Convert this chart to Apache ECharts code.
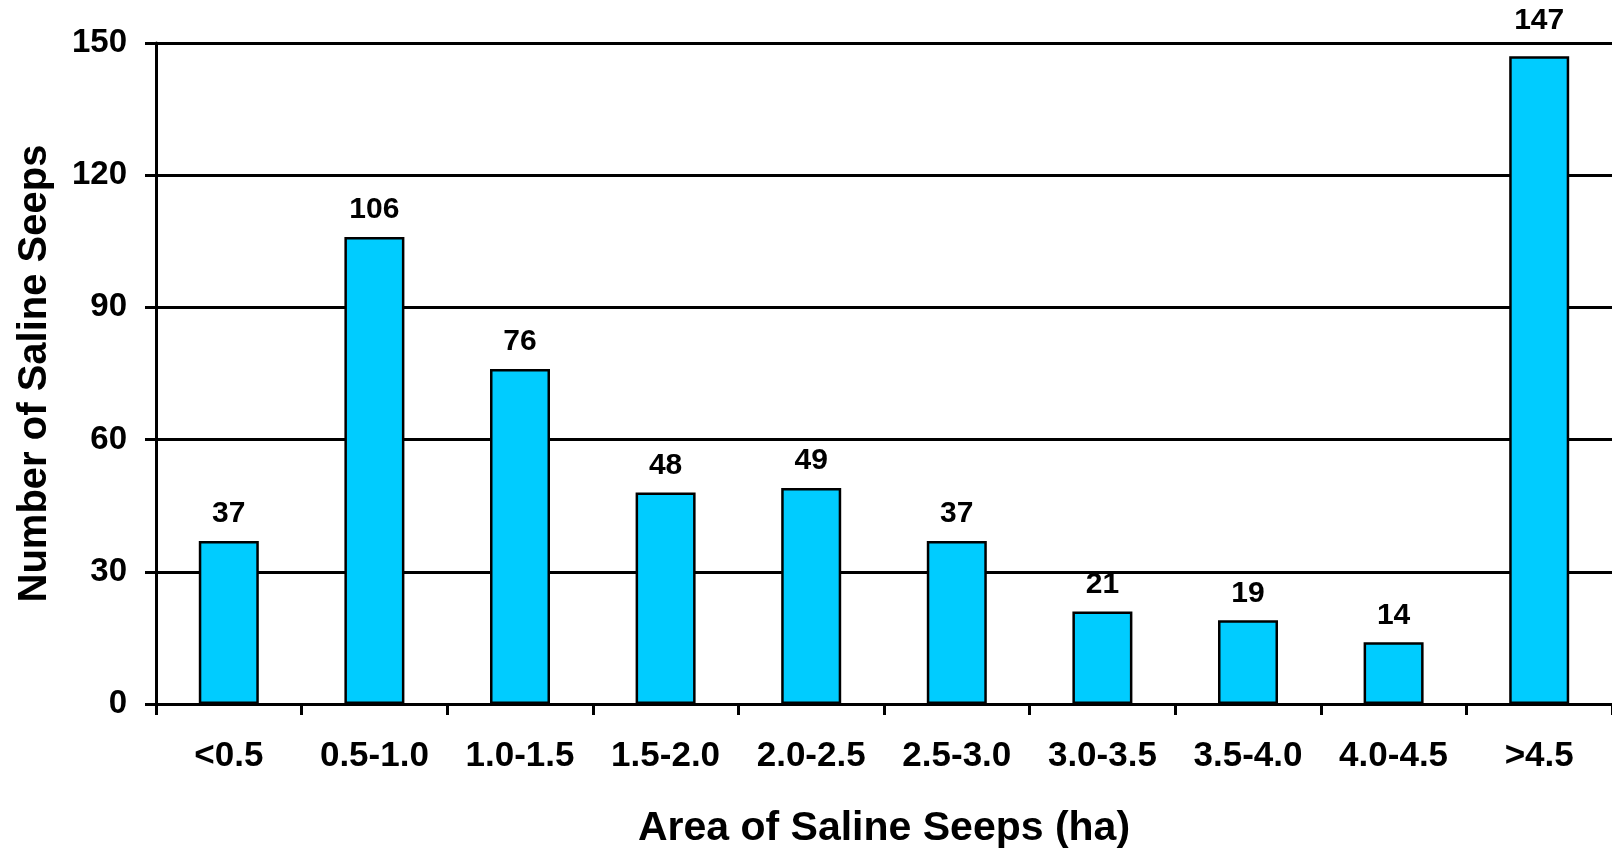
<!DOCTYPE html>
<html>
<head>
<meta charset="utf-8">
<script src="https://cdn.jsdelivr.net/npm/echarts@6/dist/echarts.min.js"></script>
<style>
html,body{margin:0;padding:0;background:#fff;}
#chart{width:1612px;height:854px;}
</style>
</head>
<body>
<div id="chart"></div>
<script>
const categories = ['<0.5','0.5-1.0','1.0-1.5','1.5-2.0','2.0-2.5','2.5-3.0','3.0-3.5','3.5-4.0','4.0-4.5','>4.5'];
const counts = [37, 106, 76, 48, 49, 37, 21, 19, 14, 147];
const yTicks = [0, 30, 60, 90, 120, 150];
const xTitle = 'Area of Saline Seeps (ha)';
const yTitle = 'Number of Saline Seeps';

const FONT = '"Liberation Sans", Arial, Helvetica, sans-serif';
const chart = echarts.init(document.getElementById('chart'));
const barData = counts.map(function (v, i) {
  return i === counts.length - 1 ? { value: v, label: { distance: 20 } } : v;
});
chart.setOption({
  backgroundColor: '#ffffff',
  animation: false,
  grid: { left: 156, top: 43, width: 1463, height: 664, containLabel: false },
  xAxis: {
    type: 'category',
    data: categories,
    boundaryGap: true,
    name: xTitle,
    nameLocation: 'middle',
    nameGap: 104,
    nameTextStyle: { fontFamily: FONT, fontWeight: 'bold', fontSize: 41, color: '#000' },
    axisLine: { lineStyle: { color: '#000', width: 3 } },
    axisTick: { show: true, alignWithLabel: false, length: 11, lineStyle: { color: '#000', width: 3 } },
    axisLabel: { fontFamily: FONT, fontWeight: 'bold', fontSize: 35, color: '#000', margin: 35, interval: 0 },
    splitLine: { show: false }
  },
  yAxis: {
    type: 'value',
    min: yTicks[0],
    max: yTicks[yTicks.length - 1],
    interval: yTicks[1] - yTicks[0],
    name: yTitle,
    nameLocation: 'middle',
    nameGap: 101,
    nameTextStyle: { fontFamily: FONT, fontWeight: 'bold', fontSize: 40, color: '#000' },
    axisLine: { show: true, lineStyle: { color: '#000', width: 3 } },
    axisTick: { show: true, length: 11, lineStyle: { color: '#000', width: 3 } },
    axisLabel: { fontFamily: FONT, fontWeight: 'bold', fontSize: 33, color: '#000', margin: 29 },
    splitLine: { show: true, lineStyle: { color: '#000', width: 3 } }
  },
  series: [{
    type: 'bar',
    data: barData,
    barWidth: 60,
    itemStyle: { color: '#00CCFF', borderColor: '#000', borderWidth: 2.5 },
    label: {
      show: true,
      position: 'top',
      distance: 12,
      fontFamily: FONT,
      fontWeight: 'bold',
      fontSize: 30,
      color: '#000'
    }
  }]
});
</script>
</body>
</html>
